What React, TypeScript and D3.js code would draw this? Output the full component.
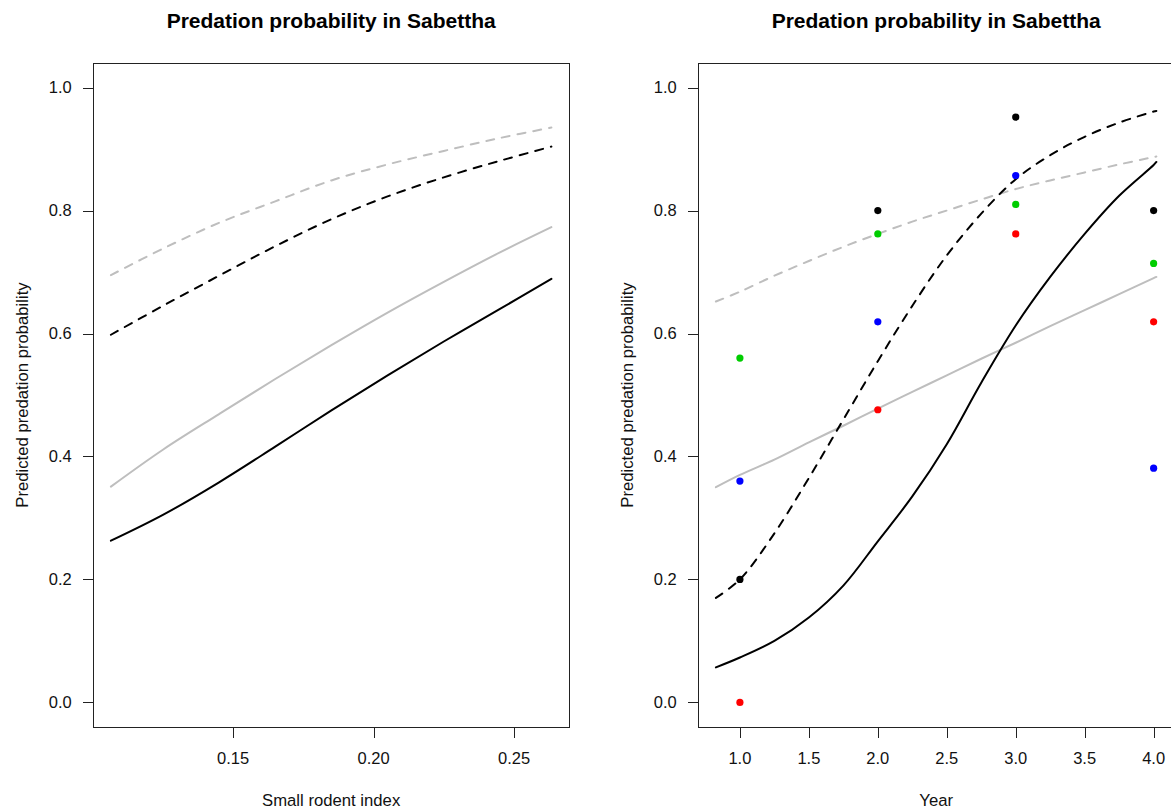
import React from 'react'
import * as d3 from 'd3'

// left panel: predictions against the small rodent index
const rodentIndex = [0.1065, 0.125, 0.145, 0.165, 0.185, 0.205, 0.225, 0.245, 0.2633]
const rodentBlackSolid = [0.263, 0.305, 0.358, 0.416, 0.475, 0.532, 0.587, 0.64, 0.689]
const rodentGraySolid = [0.351, 0.411, 0.469, 0.526, 0.581, 0.634, 0.684, 0.732, 0.773]
const rodentBlackDashed = [0.598, 0.645, 0.694, 0.742, 0.786, 0.823, 0.854, 0.881, 0.904]
const rodentGrayDashed = [0.695, 0.738, 0.78, 0.815, 0.849, 0.875, 0.897, 0.918, 0.935]

// right panel: predictions against year
const yearGrid = [0.826, 1.0, 1.25, 1.5, 1.75, 2.0, 2.25, 2.5, 2.75, 3.0, 3.25, 3.5, 3.75, 4.0, 4.02]
const yearBlackSolid = [0.057, 0.073, 0.1, 0.138, 0.19, 0.262, 0.335, 0.42, 0.52, 0.613, 0.692, 0.762, 0.824, 0.874, 0.879]
const yearBlackDashed = [0.17, 0.2, 0.275, 0.365, 0.46, 0.555, 0.645, 0.727, 0.795, 0.851, 0.89, 0.92, 0.943, 0.961, 0.962]
const yearGraySolid = [0.35, 0.37, 0.395, 0.423, 0.45, 0.478, 0.505, 0.532, 0.559, 0.585, 0.612, 0.638, 0.664, 0.69, 0.692]
const yearGrayDashed = [0.652, 0.668, 0.694, 0.718, 0.741, 0.762, 0.782, 0.8, 0.818, 0.835, 0.849, 0.862, 0.875, 0.887, 0.888]

// observed proportions per year
const obsYears = [1, 2, 3, 4]
const obsBlack = [0.2, 0.8, 0.952, 0.8]
const obsRed = [0, 0.476, 0.762, 0.619]
const obsGreen = [0.56, 0.762, 0.81, 0.714]
const obsBlue = [0.36, 0.619, 0.857, 0.381]

const rodentTicks = [0.15, 0.2, 0.25]
const yearTicks = [1, 1.5, 2, 2.5, 3, 3.5, 4]
const probTicks = [0, 0.2, 0.4, 0.6, 0.8, 1]

const title = 'Predation probability in Sabettha'
const yTitle = 'Predicted predation probability'

const W = 1171
const H = 810
const panelW = 605
const mar = { left: 93.3, right: 36, top: 63, bottom: 83 }
const font = 'Liberation Sans, Arial, Helvetica, sans-serif'
const gray = '#BEBEBE'

// R style axis range: data range stretched 4% each side
function padded(vals) {
  const [a, b] = d3.extent(vals)
  const s = b - a
  return [a - 0.04 * s, b + 0.04 * s]
}

function Panel({ offset, xs, series, points, xTicks, xFormat, xLabel }) {
  const x0 = offset + mar.left
  const x1 = offset + panelW - mar.right
  const y0 = H - mar.bottom
  const y1 = mar.top

  const x = d3.scaleLinear().domain(padded(xs)).range([x0, x1])
  const y = d3.scaleLinear().domain([-0.04, 1.04]).range([y0, y1])

  const line = d3.line()
    .x(d => x(d[0]))
    .y(d => y(d[1]))
    .curve(d3.curveCatmullRom.alpha(0.5))

  const fy = d3.format('.1f')
  const cx = (x0 + x1) / 2
  const bx = Math.round(x0) + 0.5
  const by = Math.round(y0) + 0.5
  const tx = Math.round(y1) + 0.5

  return (
    <g>
      <text x={cx} y={28} textAnchor="middle" fontSize={21} fontWeight="bold" fontFamily={font}>{title}</text>

      {series.map((s, i) => (
        <path key={`s-${i}`}
              d={line(xs.map((v, j) => [v, s.values[j]]))}
              fill="none"
              stroke={s.color}
              strokeWidth={2}
              strokeDasharray={s.dashed ? '8 8' : null}
              strokeLinecap="round" />
      ))}

      {points.map((p, i) => p.values.map((v, j) => (
        <circle key={`p-${i}-${j}`} cx={x(obsYears[j])} cy={y(v)} r={3.6} fill={p.color} />
      )))}

      <rect x={bx} y={tx} width={Math.round(x1) - Math.round(x0)} height={Math.round(y0) - Math.round(y1)}
            fill="none" stroke="#222" strokeWidth={1} shapeRendering="crispEdges" />

      {probTicks.map(t => (
        <g key={`yt-${t}`}>
          <line x1={bx - 10.5} x2={bx} y1={Math.round(y(t)) + 0.5} y2={Math.round(y(t)) + 0.5}
                stroke="#222" shapeRendering="crispEdges" />
          <text x={x0 - 21.5} y={y(t)} dy="0.35em" textAnchor="end" fontSize={16.5} fontFamily={font} fill="#111">{fy(t)}</text>
        </g>
      ))}

      {xTicks.map(t => (
        <g key={`xt-${t}`}>
          <line x1={Math.round(x(t)) + 0.5} x2={Math.round(x(t)) + 0.5} y1={by} y2={by + 10.5}
                stroke="#222" shapeRendering="crispEdges" />
          <text x={x(t)} y={764} textAnchor="middle" fontSize={16.5} fontFamily={font} fill="#111">{xFormat(t)}</text>
        </g>
      ))}

      <text x={cx} y={806} textAnchor="middle" fontSize={16.7} fontFamily={font} fill="#111">{xLabel}</text>
      <text transform={`translate(${offset + 21.7}, ${(y0 + y1) / 2}) rotate(-90)`} dy="0.35em"
            textAnchor="middle" fontSize={16.7} fontFamily={font} fill="#111">{yTitle}</text>
    </g>
  )
}

export default function App() {
  const leftSeries = [
    { values: rodentGrayDashed, color: gray, dashed: true },
    { values: rodentBlackDashed, color: '#000', dashed: true },
    { values: rodentGraySolid, color: gray, dashed: false },
    { values: rodentBlackSolid, color: '#000', dashed: false },
  ]
  const rightSeries = [
    { values: yearGrayDashed, color: gray, dashed: true },
    { values: yearGraySolid, color: gray, dashed: false },
    { values: yearBlackDashed, color: '#000', dashed: true },
    { values: yearBlackSolid, color: '#000', dashed: false },
  ]
  const rightPoints = [
    { values: obsBlack, color: '#000000' },
    { values: obsRed, color: '#FF0000' },
    { values: obsGreen, color: '#00CD00' },
    { values: obsBlue, color: '#0000FF' },
  ]

  return (
    <svg width={W} height={H} style={{ position: 'absolute', left: 0, top: 0, background: '#fff' }}>
      <rect width={W} height={H} fill="#fff" />
      <Panel offset={0} xs={rodentIndex} series={leftSeries} points={[]}
             xTicks={rodentTicks} xFormat={d3.format('.2f')} xLabel="Small rodent index" />
      <Panel offset={panelW} xs={yearGrid} series={rightSeries} points={rightPoints}
             xTicks={yearTicks} xFormat={d3.format('.1f')} xLabel="Year" />
    </svg>
  )
}
